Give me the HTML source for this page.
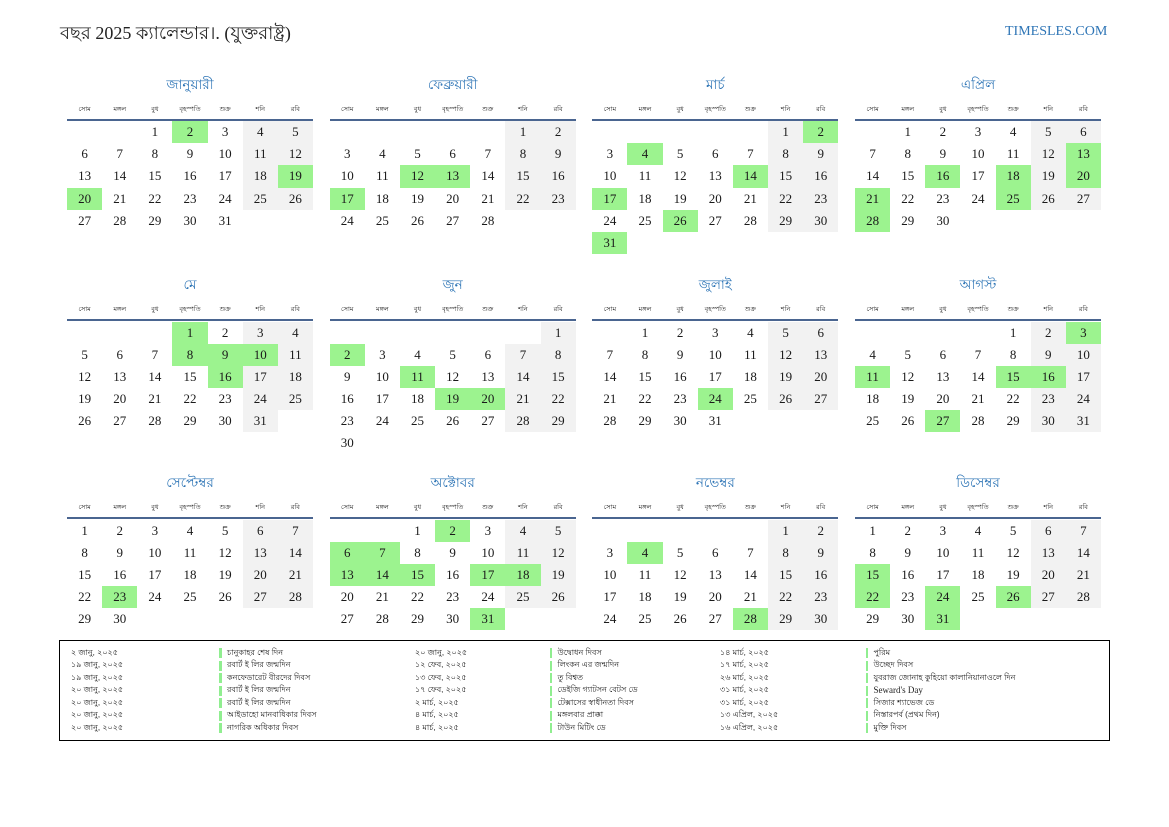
<!DOCTYPE html>
<html><head><meta charset="utf-8">
<style>
*{margin:0;padding:0;box-sizing:border-box}
html,body{width:1169px;height:827px;background:#fff;overflow:hidden}
body{position:relative;font-family:"Liberation Serif","Noto Sans CJK SC",serif;color:#1a1a1a}
.title{position:absolute;left:60px;top:21px;font-size:18px;line-height:24px;color:#222;white-space:nowrap}
.site{position:absolute;left:1005px;top:23px;font-size:14px;line-height:18px;color:#2e75b6;white-space:nowrap}
.m{position:absolute;width:246px;height:190px}
.t{position:absolute;left:0;top:0;width:246px;height:20px;line-height:20px;text-align:center;color:#2e75b6;font-size:13.5px;font-family:"Liberation Sans",sans-serif}
.wd{position:absolute;top:28px;left:0;width:246px;height:14px;display:grid;grid-template-columns:repeat(7,1fr)}
.wd span{text-align:center;font-size:6.5px;line-height:14px;font-family:"Liberation Sans",sans-serif;white-space:nowrap;overflow:hidden}
.ln{position:absolute;top:44px;left:0;width:246px;height:2px;background:#4a6590}
.gr{position:absolute;top:46.5px;left:0;width:246px;display:grid;grid-template-columns:repeat(7,1fr);grid-auto-rows:22.2px}
.gr div{text-align:center;font-size:13px;line-height:22.2px}
.gr .w{background:#f2f2f2}
.gr .g{background:#9cf38f}
.box{position:absolute;left:59px;top:640px;width:1051px;height:101px;border:1.5px solid #000}
.col{position:absolute;top:646.75px;font-size:8px;font-family:"Liberation Sans",sans-serif;color:#222;white-space:nowrap}
.col div{height:12.5px;line-height:12.5px}
.nm div{position:relative;padding-left:8px}
.nm div::before{content:"";position:absolute;left:0;top:1.25px;width:2.5px;height:10px;background:#90ee90}
</style></head><body>
<div class="title">বছর 2025 ক্যালেন্ডার।. (যুক্তরাষ্ট্র)</div>
<div class="site">TIMESLES.COM</div>

<!-- Row 1 -->
<div class="m" style="left:67px;top:74.5px">
<div class="t">জানুয়ারী</div>
<div class="wd"><span>সোম</span><span>মঙ্গল</span><span>বুধ</span><span>বৃহস্পতি</span><span>শুক্র</span><span>শনি</span><span>রবি</span></div>
<div class="ln"></div>
<div class="gr">
<div></div><div></div><div>1</div><div class="g">2</div><div>3</div><div class="w">4</div><div class="w">5</div>
<div>6</div><div>7</div><div>8</div><div>9</div><div>10</div><div class="w">11</div><div class="w">12</div>
<div>13</div><div>14</div><div>15</div><div>16</div><div>17</div><div class="w">18</div><div class="g">19</div>
<div class="g">20</div><div>21</div><div>22</div><div>23</div><div>24</div><div class="w">25</div><div class="w">26</div>
<div>27</div><div>28</div><div>29</div><div>30</div><div>31</div><div></div><div></div>
</div></div>

<div class="m" style="left:329.7px;top:74.5px">
<div class="t">ফেব্রুয়ারী</div>
<div class="wd"><span>সোম</span><span>মঙ্গল</span><span>বুধ</span><span>বৃহস্পতি</span><span>শুক্র</span><span>শনি</span><span>রবি</span></div>
<div class="ln"></div>
<div class="gr">
<div></div><div></div><div></div><div></div><div></div><div class="w">1</div><div class="w">2</div>
<div>3</div><div>4</div><div>5</div><div>6</div><div>7</div><div class="w">8</div><div class="w">9</div>
<div>10</div><div>11</div><div class="g">12</div><div class="g">13</div><div>14</div><div class="w">15</div><div class="w">16</div>
<div class="g">17</div><div>18</div><div>19</div><div>20</div><div>21</div><div class="w">22</div><div class="w">23</div>
<div>24</div><div>25</div><div>26</div><div>27</div><div>28</div><div></div><div></div>
</div></div>

<div class="m" style="left:592.3px;top:74.5px">
<div class="t">মার্চ</div>
<div class="wd"><span>সোম</span><span>মঙ্গল</span><span>বুধ</span><span>বৃহস্পতি</span><span>শুক্র</span><span>শনি</span><span>রবি</span></div>
<div class="ln"></div>
<div class="gr">
<div></div><div></div><div></div><div></div><div></div><div class="w">1</div><div class="g">2</div>
<div>3</div><div class="g">4</div><div>5</div><div>6</div><div>7</div><div class="w">8</div><div class="w">9</div>
<div>10</div><div>11</div><div>12</div><div>13</div><div class="g">14</div><div class="w">15</div><div class="w">16</div>
<div class="g">17</div><div>18</div><div>19</div><div>20</div><div>21</div><div class="w">22</div><div class="w">23</div>
<div>24</div><div>25</div><div class="g">26</div><div>27</div><div>28</div><div class="w">29</div><div class="w">30</div>
<div class="g">31</div><div></div><div></div><div></div><div></div><div></div><div></div>
</div></div>

<div class="m" style="left:855px;top:74.5px">
<div class="t">এপ্রিল</div>
<div class="wd"><span>সোম</span><span>মঙ্গল</span><span>বুধ</span><span>বৃহস্পতি</span><span>শুক্র</span><span>শনি</span><span>রবি</span></div>
<div class="ln"></div>
<div class="gr">
<div></div><div>1</div><div>2</div><div>3</div><div>4</div><div class="w">5</div><div class="w">6</div>
<div>7</div><div>8</div><div>9</div><div>10</div><div>11</div><div class="w">12</div><div class="g">13</div>
<div>14</div><div>15</div><div class="g">16</div><div>17</div><div class="g">18</div><div class="w">19</div><div class="g">20</div>
<div class="g">21</div><div>22</div><div>23</div><div>24</div><div class="g">25</div><div class="w">26</div><div class="w">27</div>
<div class="g">28</div><div>29</div><div>30</div><div></div><div></div><div></div><div></div>
</div></div>

<!-- Row 2 -->
<div class="m" style="left:67px;top:275px">
<div class="t">মে</div>
<div class="wd"><span>সোম</span><span>মঙ্গল</span><span>বুধ</span><span>বৃহস্পতি</span><span>শুক্র</span><span>শনি</span><span>রবি</span></div>
<div class="ln"></div>
<div class="gr">
<div></div><div></div><div></div><div class="g">1</div><div>2</div><div class="w">3</div><div class="w">4</div>
<div>5</div><div>6</div><div>7</div><div class="g">8</div><div class="g">9</div><div class="g">10</div><div class="w">11</div>
<div>12</div><div>13</div><div>14</div><div>15</div><div class="g">16</div><div class="w">17</div><div class="w">18</div>
<div>19</div><div>20</div><div>21</div><div>22</div><div>23</div><div class="w">24</div><div class="w">25</div>
<div>26</div><div>27</div><div>28</div><div>29</div><div>30</div><div class="w">31</div><div></div>
</div></div>

<div class="m" style="left:329.7px;top:275px">
<div class="t">জুন</div>
<div class="wd"><span>সোম</span><span>মঙ্গল</span><span>বুধ</span><span>বৃহস্পতি</span><span>শুক্র</span><span>শনি</span><span>রবি</span></div>
<div class="ln"></div>
<div class="gr">
<div></div><div></div><div></div><div></div><div></div><div></div><div class="w">1</div>
<div class="g">2</div><div>3</div><div>4</div><div>5</div><div>6</div><div class="w">7</div><div class="w">8</div>
<div>9</div><div>10</div><div class="g">11</div><div>12</div><div>13</div><div class="w">14</div><div class="w">15</div>
<div>16</div><div>17</div><div>18</div><div class="g">19</div><div class="g">20</div><div class="w">21</div><div class="w">22</div>
<div>23</div><div>24</div><div>25</div><div>26</div><div>27</div><div class="w">28</div><div class="w">29</div>
<div>30</div><div></div><div></div><div></div><div></div><div></div><div></div>
</div></div>

<div class="m" style="left:592.3px;top:275px">
<div class="t">জুলাই</div>
<div class="wd"><span>সোম</span><span>মঙ্গল</span><span>বুধ</span><span>বৃহস্পতি</span><span>শুক্র</span><span>শনি</span><span>রবি</span></div>
<div class="ln"></div>
<div class="gr">
<div></div><div>1</div><div>2</div><div>3</div><div>4</div><div class="w">5</div><div class="w">6</div>
<div>7</div><div>8</div><div>9</div><div>10</div><div>11</div><div class="w">12</div><div class="w">13</div>
<div>14</div><div>15</div><div>16</div><div>17</div><div>18</div><div class="w">19</div><div class="w">20</div>
<div>21</div><div>22</div><div>23</div><div class="g">24</div><div>25</div><div class="w">26</div><div class="w">27</div>
<div>28</div><div>29</div><div>30</div><div>31</div><div></div><div></div><div></div>
</div></div>

<div class="m" style="left:855px;top:275px">
<div class="t">আগস্ট</div>
<div class="wd"><span>সোম</span><span>মঙ্গল</span><span>বুধ</span><span>বৃহস্পতি</span><span>শুক্র</span><span>শনি</span><span>রবি</span></div>
<div class="ln"></div>
<div class="gr">
<div></div><div></div><div></div><div></div><div>1</div><div class="w">2</div><div class="g">3</div>
<div>4</div><div>5</div><div>6</div><div>7</div><div>8</div><div class="w">9</div><div class="w">10</div>
<div class="g">11</div><div>12</div><div>13</div><div>14</div><div class="g">15</div><div class="g">16</div><div class="w">17</div>
<div>18</div><div>19</div><div>20</div><div>21</div><div>22</div><div class="w">23</div><div class="w">24</div>
<div>25</div><div>26</div><div class="g">27</div><div>28</div><div>29</div><div class="w">30</div><div class="w">31</div>
</div></div>

<!-- Row 3 -->
<div class="m" style="left:67px;top:473px">
<div class="t">সেপ্টেম্বর</div>
<div class="wd"><span>সোম</span><span>মঙ্গল</span><span>বুধ</span><span>বৃহস্পতি</span><span>শুক্র</span><span>শনি</span><span>রবি</span></div>
<div class="ln"></div>
<div class="gr">
<div>1</div><div>2</div><div>3</div><div>4</div><div>5</div><div class="w">6</div><div class="w">7</div>
<div>8</div><div>9</div><div>10</div><div>11</div><div>12</div><div class="w">13</div><div class="w">14</div>
<div>15</div><div>16</div><div>17</div><div>18</div><div>19</div><div class="w">20</div><div class="w">21</div>
<div>22</div><div class="g">23</div><div>24</div><div>25</div><div>26</div><div class="w">27</div><div class="w">28</div>
<div>29</div><div>30</div><div></div><div></div><div></div><div></div><div></div>
</div></div>

<div class="m" style="left:329.7px;top:473px">
<div class="t">অক্টোবর</div>
<div class="wd"><span>সোম</span><span>মঙ্গল</span><span>বুধ</span><span>বৃহস্পতি</span><span>শুক্র</span><span>শনি</span><span>রবি</span></div>
<div class="ln"></div>
<div class="gr">
<div></div><div></div><div>1</div><div class="g">2</div><div>3</div><div class="w">4</div><div class="w">5</div>
<div class="g">6</div><div class="g">7</div><div>8</div><div>9</div><div>10</div><div class="w">11</div><div class="w">12</div>
<div class="g">13</div><div class="g">14</div><div class="g">15</div><div>16</div><div class="g">17</div><div class="g">18</div><div class="w">19</div>
<div>20</div><div>21</div><div>22</div><div>23</div><div>24</div><div class="w">25</div><div class="w">26</div>
<div>27</div><div>28</div><div>29</div><div>30</div><div class="g">31</div><div></div><div></div>
</div></div>

<div class="m" style="left:592.3px;top:473px">
<div class="t">নভেম্বর</div>
<div class="wd"><span>সোম</span><span>মঙ্গল</span><span>বুধ</span><span>বৃহস্পতি</span><span>শুক্র</span><span>শনি</span><span>রবি</span></div>
<div class="ln"></div>
<div class="gr">
<div></div><div></div><div></div><div></div><div></div><div class="w">1</div><div class="w">2</div>
<div>3</div><div class="g">4</div><div>5</div><div>6</div><div>7</div><div class="w">8</div><div class="w">9</div>
<div>10</div><div>11</div><div>12</div><div>13</div><div>14</div><div class="w">15</div><div class="w">16</div>
<div>17</div><div>18</div><div>19</div><div>20</div><div>21</div><div class="w">22</div><div class="w">23</div>
<div>24</div><div>25</div><div>26</div><div>27</div><div class="g">28</div><div class="w">29</div><div class="w">30</div>
</div></div>

<div class="m" style="left:855px;top:473px">
<div class="t">ডিসেম্বর</div>
<div class="wd"><span>সোম</span><span>মঙ্গল</span><span>বুধ</span><span>বৃহস্পতি</span><span>শুক্র</span><span>শনি</span><span>রবি</span></div>
<div class="ln"></div>
<div class="gr">
<div>1</div><div>2</div><div>3</div><div>4</div><div>5</div><div class="w">6</div><div class="w">7</div>
<div>8</div><div>9</div><div>10</div><div>11</div><div>12</div><div class="w">13</div><div class="w">14</div>
<div class="g">15</div><div>16</div><div>17</div><div>18</div><div>19</div><div class="w">20</div><div class="w">21</div>
<div class="g">22</div><div>23</div><div class="g">24</div><div>25</div><div class="g">26</div><div class="w">27</div><div class="w">28</div>
<div>29</div><div>30</div><div class="g">31</div><div></div><div></div><div></div><div></div>
</div></div>

<!-- Holidays -->
<div class="box"></div>
<div class="col" style="left:71px">
<div>২ জানু, ২০২৫</div><div>১৯ জানু, ২০২৫</div><div>১৯ জানু, ২০২৫</div><div>২০ জানু, ২০২৫</div><div>২০ জানু, ২০২৫</div><div>২০ জানু, ২০২৫</div><div>২০ জানু, ২০২৫</div>
</div>
<div class="col nm" style="left:219px">
<div>চানুকাহর শেষ দিন</div><div>রবার্ট ই লির জন্মদিন</div><div>কনফেডারেট বীরদের দিবস</div><div>রবার্ট ই লির জন্মদিন</div><div>রবার্ট ই লির জন্মদিন</div><div>আইডাহো মানবাধিকার দিবস</div><div>নাগরিক অধিকার দিবস</div>
</div>
<div class="col" style="left:415px">
<div>২০ জানু, ২০২৫</div><div>১২ ফেব, ২০২৫</div><div>১৩ ফেব, ২০২৫</div><div>১৭ ফেব, ২০২৫</div><div>২ মার্চ, ২০২৫</div><div>৪ মার্চ, ২০২৫</div><div>৪ মার্চ, ২০২৫</div>
</div>
<div class="col nm" style="left:549.5px">
<div>উদ্বোধন দিবস</div><div>লিংকন এর জন্মদিন</div><div>তু বিশ্বত</div><div>ডেইজি গ্যাটসন বেটস ডে</div><div>টেক্সাসের স্বাধীনতা দিবস</div><div>মঙ্গলবার প্রাক্কা</div><div>টাউন মিটিং ডে</div>
</div>
<div class="col" style="left:720px">
<div>১৪ মার্চ, ২০২৫</div><div>১৭ মার্চ, ২০২৫</div><div>২৬ মার্চ, ২০২৫</div><div>৩১ মার্চ, ২০২৫</div><div>৩১ মার্চ, ২০২৫</div><div>১৩ এপ্রিল, ২০২৫</div><div>১৬ এপ্রিল, ২০২৫</div>
</div>
<div class="col nm" style="left:865.5px">
<div>পুরিম</div><div>উচ্ছেদ দিবস</div><div>যুবরাজ জোনাহ কুহিয়ো কালানিয়ানাওলে দিন</div><div style="font-family:'Liberation Serif',serif;font-size:9px">Seward's Day</div><div>সিজার শ্যাভেজ ডে</div><div>নিস্তারপর্ব (প্রথম দিন)</div><div>মুক্তি দিবস</div>
</div>
</body></html>
